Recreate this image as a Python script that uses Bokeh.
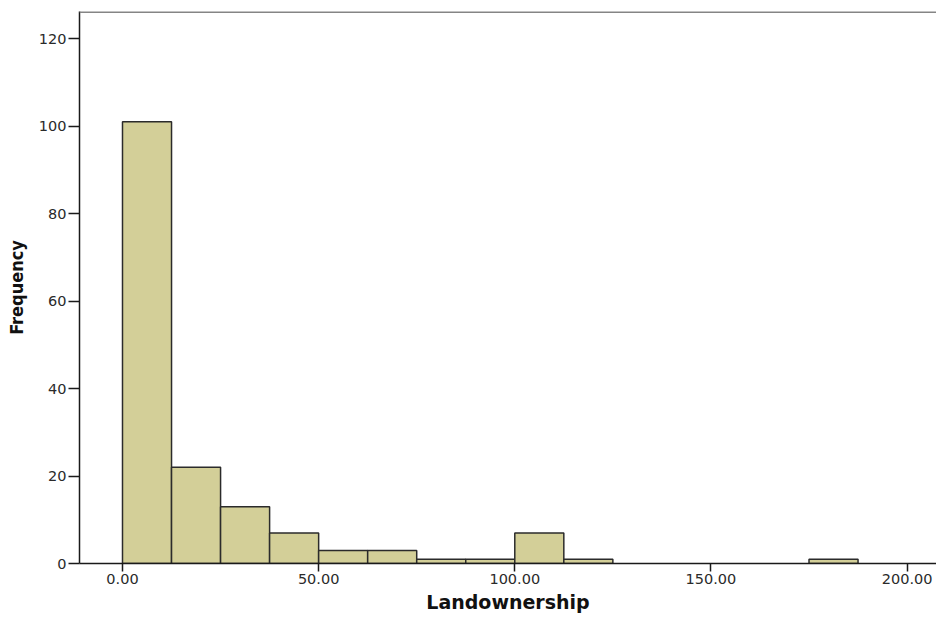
from bokeh.plotting import figure
from bokeh.models import Span, FixedTicker, CustomJSTickFormatter, ColumnDataSource
from bokeh.embed import file_html
from bokeh.resources import INLINE

# Data
bin_left = [0.0, 12.5, 25.0, 37.5, 50.0, 62.5, 75.0, 87.5, 100.0, 112.5, 125.0, 137.5, 150.0, 162.5, 175.0]
bin_right = [12.5, 25.0, 37.5, 50.0, 62.5, 75.0, 87.5, 100.0, 112.5, 125.0, 137.5, 150.0, 162.5, 175.0, 187.5]
counts = [101, 22, 13, 7, 3, 3, 1, 1, 7, 1, 0, 0, 0, 0, 1]
x_ticks = [0, 50, 100, 150, 200]
y_ticks = [0, 20, 40, 60, 80, 100, 120]

rows = [i for i, c in enumerate(counts) if c > 0]
src = ColumnDataSource(dict(
    left=[bin_left[i] for i in rows],
    right=[bin_right[i] for i in rows],
    top=[counts[i] for i in rows],
    bottom=[0] * len(rows),
))

p = figure(width=936, height=618, output_backend="svg", toolbar_location=None,
           x_range=(-10.96, 207.5), y_range=(0, 126.2),
           min_border_left=79, min_border_top=11, min_border_right=0, min_border_bottom=55)
p.outline_line_color = None
p.grid.grid_line_color = None
p.background_fill_color = "white"

p.quad(left="left", right="right", top="top", bottom="bottom", source=src,
       fill_color="#D3CF98", line_color="#2b2b2b", line_width=1.5)

p.add_layout(Span(location=126.2, dimension="width", line_color="#858585", line_width=3))

font = "DejaVu Sans"
p.xaxis.ticker = FixedTicker(ticks=x_ticks)
p.xaxis.formatter = CustomJSTickFormatter(code="return tick.toFixed(2);")
p.yaxis.ticker = FixedTicker(ticks=y_ticks)
for ax in (p.xaxis, p.yaxis):
    ax.axis_line_color = "#1a1a1a"
    ax.axis_line_width = 1.5
    ax.major_tick_line_color = "#1a1a1a"
    ax.major_tick_line_width = 1.5
    ax.major_tick_in = 0
    ax.minor_tick_line_color = None
    ax.major_label_text_font = font
    ax.major_label_text_font_size = "14.5px"
    ax.major_label_text_color = "#2a2a2a"
    ax.axis_label_text_font_style = "bold"
    ax.axis_label_text_color = "#111111"
p.yaxis.major_tick_out = 11
p.yaxis.major_label_standoff = 2
p.xaxis.major_tick_out = 8
p.xaxis.major_label_standoff = 2
p.xaxis.axis_label = "Landownership"
p.xaxis.axis_label_text_font = "DejaVu Sans"
p.xaxis.axis_label_text_font_size = "19px"
p.xaxis.axis_label_standoff = 4
p.yaxis.axis_label = "Frequency"
p.yaxis.axis_label_text_font = "DejaVu Sans Condensed"
p.yaxis.axis_label_text_font_size = "18px"
p.yaxis.axis_label_standoff = 9

open("out.html", "w").write(file_html(p, INLINE))
